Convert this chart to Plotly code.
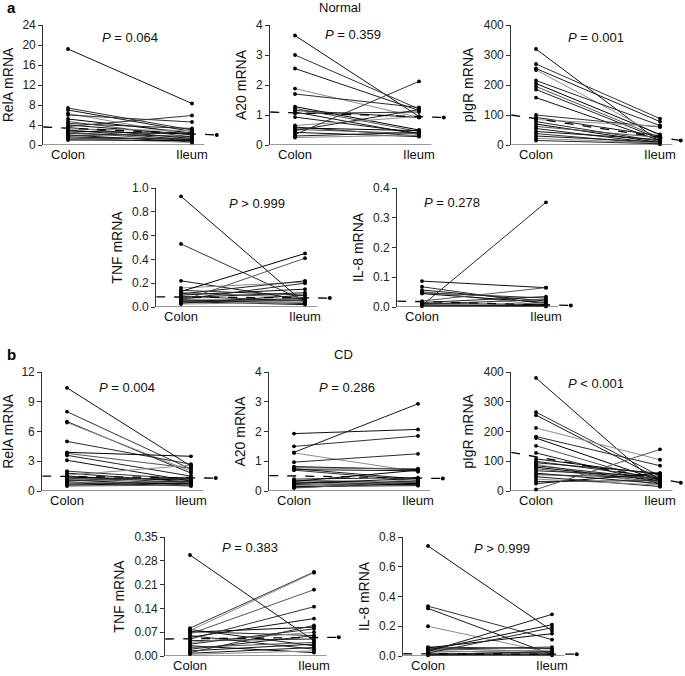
import plotly.graph_objects as go

W, H = 685, 676

# ---------------- data ----------------
relA_n_colon = [19.2, 7.4, 7.0, 6.3, 6.0, 5.2, 4.7, 4.3, 4.0, 3.7, 3.5, 3.2, 3.0, 2.8, 2.6, 2.3, 2.0, 1.8, 1.6, 1.4, 1.2, 1.0]
relA_n_ileum = [8.3, 3.0, 2.7, 1.9, 4.6, 2.4, 1.6, 3.3, 2.1, 5.9, 1.3, 2.9, 1.0, 2.2, 0.8, 1.7, 0.6, 2.5, 1.1, 0.5, 1.4, 0.9]
relA_n_dash = [3.6, 2.0]

a20_n_colon = [3.65, 3.0, 2.55, 1.88, 1.7, 1.28, 1.22, 1.15, 1.1, 1.05, 0.93, 0.65, 0.6, 0.57, 0.52, 0.48, 0.42, 0.35, 0.3, 0.25]
a20_n_ileum = [0.95, 1.2, 1.15, 0.92, 1.25, 0.5, 0.45, 0.92, 0.35, 1.1, 0.4, 0.95, 0.3, 0.48, 0.38, 1.18, 0.28, 2.12, 0.42, 0.33]
a20_n_dash = [1.1, 0.92]

pigr_n_colon = [320, 270, 255, 250, 215, 205, 195, 185, 158, 100, 92, 85, 78, 70, 62, 55, 45, 38, 30, 22, 15]
pigr_n_ileum = [10, 88, 78, 30, 65, 35, 25, 20, 15, 60, 30, 62, 12, 8, 25, 5, 18, 3, 10, 6, 4]
pigr_n_dash = [100, 15]

tnf_n_colon = [0.93, 0.53, 0.22, 0.16, 0.14, 0.13, 0.12, 0.11, 0.10, 0.09, 0.08, 0.07, 0.065, 0.06, 0.05, 0.05, 0.045, 0.04, 0.03, 0.025]
tnf_n_ileum = [0.03, 0.05, 0.06, 0.21, 0.10, 0.45, 0.08, 0.22, 0.15, 0.05, 0.12, 0.04, 0.20, 0.03, 0.41, 0.07, 0.02, 0.06, 0.10, 0.04]
tnf_n_dash = [0.085, 0.075]

il8_n_colon = [0.087, 0.068, 0.057, 0.052, 0.048, 0.045, 0.02, 0.015, 0.012, 0.01, 0.008, 0.006, 0.005, 0.004, 0.003]
il8_n_ileum = [0.065, 0.01, 0.02, 0.005, 0.03, 0.015, 0.065, 0.035, 0.008, 0.025, 0.004, 0.012, 0.352, 0.006, 0.002]
il8_n_dash = [0.02, 0.005]

relA_cd_colon = [10.4, 8.0, 7.0, 6.9, 5.0, 3.9, 3.8, 3.6, 3.1, 2.0, 1.8, 1.6, 1.5, 1.4, 1.3, 1.2, 1.1, 1.0, 0.9, 0.8, 0.7, 0.6, 0.5]
relA_cd_ileum = [2.5, 2.2, 1.8, 2.0, 2.7, 3.5, 2.3, 1.5, 1.0, 1.2, 0.9, 2.6, 0.8, 1.1, 0.7, 1.3, 0.6, 1.4, 0.5, 0.9, 1.0, 0.8, 0.6]
relA_cd_dash = [1.5, 1.3]

a20_cd_colon = [1.93, 1.5, 1.3, 1.28, 0.97, 0.82, 0.78, 0.75, 0.72, 0.7, 0.4, 0.37, 0.35, 0.32, 0.3, 0.27, 0.25, 0.22, 0.2, 0.18, 0.15, 0.12, 0.1]
a20_cd_ileum = [2.07, 1.85, 2.93, 0.65, 1.25, 0.72, 0.75, 0.4, 0.68, 0.35, 0.45, 0.3, 0.25, 0.7, 0.2, 0.33, 0.42, 0.28, 0.22, 0.38, 0.18, 0.26, 0.3]
a20_cd_dash = [0.52, 0.42]

pigr_cd_colon = [380, 265, 255, 212, 183, 178, 152, 128, 108, 100, 95, 90, 85, 80, 75, 68, 60, 55, 48, 40, 32, 25, 5]
pigr_cd_ileum = [15, 50, 40, 105, 85, 35, 30, 25, 55, 45, 60, 20, 40, 35, 30, 50, 25, 45, 15, 20, 35, 60, 140]
pigr_cd_dash = [130, 28]

tnf_cd_colon = [0.297, 0.082, 0.078, 0.075, 0.072, 0.07, 0.065, 0.06, 0.055, 0.05, 0.045, 0.04, 0.035, 0.03, 0.025, 0.02, 0.015, 0.01, 0.008, 0.005]
tnf_cd_ileum = [0.045, 0.247, 0.03, 0.245, 0.06, 0.085, 0.195, 0.02, 0.11, 0.145, 0.05, 0.07, 0.08, 0.01, 0.04, 0.06, 0.035, 0.09, 0.025, 0.015]
tnf_cd_dash = [0.05, 0.055]

il8_cd_colon = [0.74, 0.335, 0.32, 0.2, 0.06, 0.055, 0.05, 0.045, 0.04, 0.035, 0.03, 0.025, 0.02, 0.015, 0.012, 0.01, 0.008, 0.005]
il8_cd_ileum = [0.17, 0.11, 0.01, 0.02, 0.05, 0.15, 0.03, 0.06, 0.21, 0.02, 0.28, 0.04, 0.19, 0.01, 0.005, 0.03, 0.015, 0.008]
il8_cd_dash = [0.015, 0.012]

sites = ["Colon", "Ileum"]

ticks_relA_n = [0, 4, 8, 12, 16, 20, 24]
ticks_a20 = [0, 1, 2, 3, 4]
ticks_pigr = [0, 100, 200, 300, 400]
ticks_tnf_n = [0.0, 0.2, 0.4, 0.6, 0.8, 1.0]
ticks_il8_n = [0.0, 0.1, 0.2, 0.3, 0.4]
ticks_relA_cd = [0, 3, 6, 9, 12]
ticks_tnf_cd = [0.00, 0.07, 0.14, 0.21, 0.28, 0.35]
ticks_il8_cd = [0.0, 0.2, 0.4, 0.6, 0.8]

p_labels = ["= 0.064", "= 0.359", "= 0.001", "> 0.999", "= 0.278",
            "= 0.004", "= 0.286", "< 0.001", "= 0.383", "> 0.999"]

# ---------------- layout config ----------------
panels = [
    dict(c=relA_n_colon, i=relA_n_ileum, d=relA_n_dash, lab="RelA mRNA", t=ticks_relA_n, fmt="{:.0f}", cpx=68, ypx=(25, 145), pp=(1.5, 0.9)),
    dict(c=a20_n_colon, i=a20_n_ileum, d=a20_n_dash, lab="A20 mRNA", t=ticks_a20, fmt="{:.0f}", cpx=295, ypx=(25, 145), pp=(1.47, 0.92)),
    dict(c=pigr_n_colon, i=pigr_n_ileum, d=pigr_n_dash, lab="pIgR mRNA", t=ticks_pigr, fmt="{:.0f}", cpx=536, ypx=(25, 145), pp=(1.48, 0.9)),
    dict(c=tnf_n_colon, i=tnf_n_ileum, d=tnf_n_dash, lab="TNF mRNA", t=ticks_tnf_n, fmt="{:.1f}", cpx=181, ypx=(188, 307), pp=(1.61, 0.87)),
    dict(c=il8_n_colon, i=il8_n_ileum, d=il8_n_dash, lab="IL-8 mRNA", t=ticks_il8_n, fmt="{:.1f}", cpx=422, ypx=(188, 307), pp=(1.24, 0.88)),
    dict(c=relA_cd_colon, i=relA_cd_ileum, d=relA_cd_dash, lab="RelA mRNA", t=ticks_relA_cd, fmt="{:.0f}", cpx=67, ypx=(372, 491), pp=(1.48, 0.87)),
    dict(c=a20_cd_colon, i=a20_cd_ileum, d=a20_cd_dash, lab="A20 mRNA", t=ticks_a20, fmt="{:.0f}", cpx=294, ypx=(372, 491), pp=(1.43, 0.87)),
    dict(c=pigr_cd_colon, i=pigr_cd_ileum, d=pigr_cd_dash, lab="pIgR mRNA", t=ticks_pigr, fmt="{:.0f}", cpx=536, ypx=(372, 491), pp=(1.48, 0.9)),
    dict(c=tnf_cd_colon, i=tnf_cd_ileum, d=tnf_cd_dash, lab="TNF mRNA", t=ticks_tnf_cd, fmt="{:.2f}", cpx=190, ypx=(537, 656), pp=(1.48, 0.91)),
    dict(c=il8_cd_colon, i=il8_cd_ileum, d=il8_cd_dash, lab="IL-8 mRNA", t=ticks_il8_cd, fmt="{:.1f}", cpx=428, ypx=(537, 656), pp=(1.6, 0.9)),
]

FONT = "Liberation Sans, Arial, sans-serif"
UNIT = 124.0
XMIN, XMAX, XAXEND, DASHEND = 0.8, 2.23, 2.1, 2.2
shades = ["#111111", "#333333", "#1a1a1a", "#8c8c8c", "#2a2a2a", "#000000", "#555555", "#222222"]

fig = go.Figure()
layout = dict(width=W, height=H, margin=dict(l=0, r=0, t=0, b=0, autoexpand=False),
              plot_bgcolor="white", paper_bgcolor="white", showlegend=False,
              font=dict(family=FONT, color="#222", size=12))
shapes = []
annotations = []

for k, p in enumerate(panels, start=1):
    xa = "x" if k == 1 else f"x{k}"
    ya = "y" if k == 1 else f"y{k}"
    top = p["t"][-1]
    c = p["cpx"]
    x0 = c - (1 - XMIN) * UNIT
    x1 = min(c + (XMAX - 1) * UNIT, W - 0.5)
    xmax = 1 + (x1 - c) / UNIT
    dend = min(DASHEND, xmax - 0.03)

    for j, (cv, iv) in enumerate(zip(p["c"], p["i"])):
        fig.add_trace(go.Scatter(x=[1, 2], y=[cv, iv], mode="lines",
                                 line=dict(color=shades[j % len(shades)], width=1.0),
                                 xaxis=xa, yaxis=ya, hoverinfo="skip"))
    n = len(p["c"])
    fig.add_trace(go.Scatter(x=[1] * n + [2] * n, y=list(p["c"]) + list(p["i"]), mode="markers",
                             marker=dict(color="black", size=3.8), cliponaxis=False,
                             xaxis=xa, yaxis=ya, hoverinfo="skip"))
    fig.add_trace(go.Scatter(x=[XMIN, dend], y=p["d"], mode="lines",
                             line=dict(color="black", width=1.3, dash="dash"),
                             xaxis=xa, yaxis=ya, hoverinfo="skip"))
    fig.add_trace(go.Scatter(x=[dend], y=[p["d"][1]], mode="markers",
                             marker=dict(color="black", size=4), cliponaxis=False,
                             xaxis=xa, yaxis=ya, hoverinfo="skip"))

    y0, y1 = p["ypx"]
    layout["xaxis" if k == 1 else f"xaxis{k}"] = dict(
        domain=[x0 / W, x1 / W], range=[XMIN, xmax], anchor=ya, automargin=False,
        tickvals=[1, 2], ticktext=sites, ticks="", showline=False,
        showgrid=False, zeroline=False, tickfont=dict(size=13, color="#111"))
    layout["yaxis" if k == 1 else f"yaxis{k}"] = dict(
        domain=[1 - y1 / H, 1 - y0 / H], range=[0, top], anchor=xa, automargin=False,
        tickvals=p["t"], ticktext=[p["fmt"].format(v) for v in p["t"]],
        ticks="outside", ticklen=4, tickcolor="#333", showline=True,
        linecolor="#333", linewidth=1, showgrid=False, zeroline=False,
        tickfont=dict(size=12, color="#222"),
        title=dict(text=p["lab"], font=dict(size=14, color="#111"), standoff=6))
    shapes.append(dict(type="line", xref=xa, yref=ya, x0=XMIN, x1=XAXEND, y0=0, y1=0,
                       line=dict(color="#333", width=1)))
    annotations.append(dict(xref=xa, yref=f"{ya} domain", x=p["pp"][0], y=p["pp"][1],
                            xanchor="center", yanchor="middle",
                            text=f"<i>P</i> {p_labels[k - 1]}", showarrow=False,
                            font=dict(size=13, color="#111")))

annotations += [
    dict(xref="paper", yref="paper", x=5 / W, y=1 - 8 / H, text="<b>a</b>", showarrow=False,
         xanchor="left", yanchor="middle", font=dict(size=15, color="black")),
    dict(xref="paper", yref="paper", x=5 / W, y=1 - 354 / H, text="<b>b</b>", showarrow=False,
         xanchor="left", yanchor="middle", font=dict(size=15, color="black")),
    dict(xref="paper", yref="paper", x=340 / W, y=1 - 8 / H, text="Normal", showarrow=False,
         xanchor="center", yanchor="middle", font=dict(size=13, color="#111")),
    dict(xref="paper", yref="paper", x=343 / W, y=1 - 354 / H, text="CD", showarrow=False,
         xanchor="center", yanchor="middle", font=dict(size=13, color="#111")),
]

layout["shapes"] = shapes
layout["annotations"] = annotations
fig.update_layout(**layout)
fig.write_html("out.html", config={"displayModeBar": False},
               post_script="document.body.style.margin='0';document.body.style.overflow='hidden';")
